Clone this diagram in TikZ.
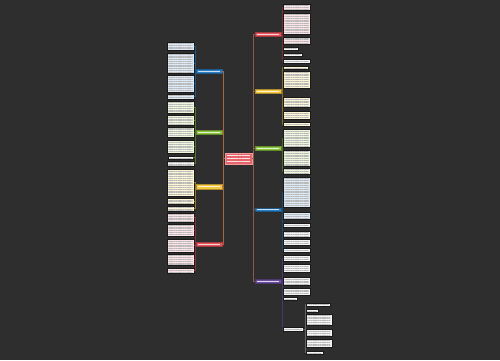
\documentclass[tikz,border=0pt]{standalone}
\usetikzlibrary{fit,patterns.meta}
\definecolor{bg}{HTML}{2E2E2E}
\definecolor{cred}{HTML}{E5535B}
\definecolor{cblue}{HTML}{2A7FC4}
\definecolor{cgreen}{HTML}{8CC63F}
\definecolor{cyellow}{HTML}{F5C842}
\definecolor{cpurple}{HTML}{6B4F9E}
\definecolor{lpink}{HTML}{FBE3E8}
\definecolor{lblue}{HTML}{DDE9F5}
\definecolor{lgreen}{HTML}{EEF6DD}
\definecolor{lyellow}{HTML}{FDF6D6}
\definecolor{lwhite}{HTML}{F4F4F4}
\definecolor{trunkL}{HTML}{A8653E}
\definecolor{trunkR}{HTML}{8A5A44}
\tikzset{
  leaf/.style={draw=black!90, line width=0.6pt, inner sep=0pt,
    path picture={\fill[pattern={Lines[distance=1.8pt,angle=0,line width=0.5pt]}, pattern color=black!28]
      ([shift={(1.3pt,-1pt)}]path picture bounding box.north west) rectangle
      ([shift={(-1.3pt,1pt)}]path picture bounding box.south east);}},
  branch/.style={fill=#1, draw=#1!70!black, line width=0.4pt, inner sep=0pt,
    path picture={\draw[white!75!#1, line width=1pt]
      ([xshift=2pt]path picture bounding box.west) -- ([xshift=-2pt]path picture bounding box.east);}},
  centre/.style={fill=cred!90!white, draw=cred!60!white, line width=0.6pt, inner sep=0pt,
    path picture={\fill[pattern={Lines[distance=3.2pt,angle=0,line width=0.9pt]}, pattern color=white!85!cred]
      ([shift={(2pt,-1.8pt)}]path picture bounding box.north west) rectangle
      ([shift={(-2pt,1.8pt)}]path picture bounding box.south east);}},
  conn/.style={draw=#1, line width=0.5pt},
}
\begin{document}
\begin{tikzpicture}[x=1pt,y=-1pt]
\fill[bg] (0,0) rectangle (500,360);
\useasboundingbox (0,0) rectangle (500,360);

% centre
\node[centre, fit={(225,153) (252,164)}] (C) {};
\coordinate (TL) at (223.5,158.5);
\coordinate (TR) at (253.5,158.5);

% left branches
\node[branch=cblue,   fit={(196,69) (222,73)}] (LB) {};
\node[branch=cgreen,  fit={(196,130) (222,134)}] (LG) {};
\node[branch=cyellow, fit={(196,184) (222,189)}] (LY) {};
\node[branch=cred,    fit={(196,242) (222,246)}] (LR) {};

% right branches
\node[branch=cred,    fit={(255,32) (281,36)}] (RR) {};
\node[branch=cyellow, fit={(255,89) (281,93)}] (RY) {};
\node[branch=cgreen,  fit={(255,146) (281,150)}] (RG) {};
\node[branch=cblue,   fit={(255,208) (281,211)}] (RB) {};
\node[branch=cpurple, fit={(255,279) (281,283)}] (RP) {};

% trunk connectors
\draw[conn=trunkL] (C.west) -- (TL);
\foreach \b in {LB,LG,LY,LR} \draw[conn=trunkL] (TL) |- (\b.east);
\draw[conn=trunkR] (C.east) -- (TR);
\foreach \b in {RR,RY,RG,RB,RP} \draw[conn=trunkR] (TR) |- (\b.west);

% left leaves: blue
\node[leaf, fill=lblue, fit={(167,42) (194,50)}] (a1) {};
\node[leaf, fill=lblue, fit={(167,53) (194,73)}] (a2) {};
\node[leaf, fill=lblue, fit={(167,75) (194,92)}] (a3) {};
\node[leaf, fill=lblue, fit={(167,94) (194,99)}] (a4) {};
% green
\node[leaf, fill=lgreen, fit={(167,101) (194,113)}] (b1) {};
\node[leaf, fill=lgreen, fit={(167,115) (194,125)}] (b2) {};
\node[leaf, fill=lgreen, fit={(167,127) (194,137)}] (b3) {};
\node[leaf, fill=lgreen, fit={(167,140) (194,153)}] (b4) {};
\node[leaf, fill=lwhite, fit={(168,156) (193,159)}] (b5) {};
\node[leaf, fill=lwhite, fit={(167,161) (194,166)}] (b6) {};
% yellow
\node[leaf, fill=lyellow, fit={(167,169) (194,196)}] (c1) {};
\node[leaf, fill=lyellow, fit={(167,198) (194,204)}] (c2) {};
\node[leaf, fill=lyellow, fit={(167,206) (194,211)}] (c3) {};
% red
\node[leaf, fill=lpink, fit={(167,213) (194,222)}] (d1) {};
\node[leaf, fill=lpink, fit={(167,224) (194,236)}] (d2) {};
\node[leaf, fill=lpink, fit={(167,239) (194,252)}] (d3) {};
\node[leaf, fill=lpink, fit={(167,254) (194,265)}] (d4) {};
\node[leaf, fill=lpink, fit={(167,268) (194,273)}] (d5) {};

\foreach \l in {a1,a2,a3,a4} \draw[conn=cblue!70!black] (LB.west) -- ++(-1,0) |- (\l.east);
\foreach \l in {b1,b2,b3,b4,b5,b6} \draw[conn=cgreen!60!black] (LG.west) -- ++(-1,0) |- (\l.east);
\foreach \l in {c1,c2,c3} \draw[conn=cyellow!60!black] (LY.west) -- ++(-1,0) |- (\l.east);
\foreach \l in {d1,d2,d3,d4,d5} \draw[conn=cred!60!black] (LR.west) -- ++(-1,0) |- (\l.east);

% right leaves: red
\node[leaf, fill=lpink, fit={(283,4) (310,10)}] (e1) {};
\node[leaf, fill=lpink, fit={(283,13) (310,34)}] (e2) {};
\node[leaf, fill=lpink, fit={(283,37) (310,44)}] (e3) {};
\node[leaf, fill=lwhite, fit={(283,47) (298,50)}] (e4) {};
\node[leaf, fill=lwhite, fit={(283,53) (302,56)}] (e5) {};
\node[leaf, fill=lwhite, fit={(283,59) (310,63)}] (e6) {};
% yellow
\node[leaf, fill=lyellow, fit={(283,66) (308,69)}] (f1) {};
\node[leaf, fill=lyellow, fit={(283,71) (310,88)}] (f2) {};
\node[leaf, fill=lyellow, fit={(283,97) (310,107)}] (f3) {};
\node[leaf, fill=lyellow, fit={(283,111) (310,119)}] (f4) {};
\node[leaf, fill=lyellow, fit={(283,122) (310,126)}] (f5) {};
% green
\node[leaf, fill=lgreen, fit={(283,129) (310,147)}] (g1) {};
\node[leaf, fill=lgreen, fit={(283,150) (310,166)}] (g2) {};
\node[leaf, fill=lgreen, fit={(283,168) (310,174)}] (g3) {};
% blue
\node[leaf, fill=lblue, fit={(283,177) (310,207)}] (h1) {};
\node[leaf, fill=lblue, fit={(283,212) (310,219)}] (h2) {};
\node[leaf, fill=lwhite, fit={(283,223) (310,227)}] (h3) {};
\node[leaf, fill=lwhite, fit={(283,231) (310,237)}] (h4) {};
\node[leaf, fill=lwhite, fit={(283,239) (310,245)}] (h5) {};
\node[leaf, fill=lwhite, fit={(283,248) (310,252)}] (h6) {};
% purple
\node[leaf, fill=lwhite, fit={(283,255) (310,261)}] (p1) {};
\node[leaf, fill=lwhite, fit={(283,264) (310,272)}] (p2) {};
\node[leaf, fill=lwhite, fit={(283,277) (310,285)}] (p3) {};
\node[leaf, fill=lwhite, fit={(283,288) (310,295)}] (p4) {};
\node[leaf, fill=lwhite, fit={(283,297) (297,300)}] (p5) {};
\node[leaf, fill=lwhite, fit={(283,327) (303,331)}] (p6) {};
% sub-leaves
\node[leaf, fill=lwhite, fit={(306,303) (330,306)}] (q1) {};
\node[leaf, fill=lwhite, fit={(306,309) (318,312)}] (q2) {};
\node[leaf, fill=lwhite, fit={(306,314) (332,325)}] (q3) {};
\node[leaf, fill=lwhite, fit={(306,329) (332,336)}] (q4) {};
\node[leaf, fill=lwhite, fit={(306,339) (332,347)}] (q5) {};
\node[leaf, fill=lwhite, fit={(306,351) (323,354)}] (q6) {};

\foreach \l in {e1,e2,e3,e4,e5,e6} \draw[conn=cred!55!black] (RR.east) -- ++(1,0) |- (\l.west);
\foreach \l in {f1,f2,f3,f4,f5} \draw[conn=cyellow!55!black] (RY.east) -- ++(1,0) |- (\l.west);
\foreach \l in {g1,g2,g3} \draw[conn=cgreen!55!black] (RG.east) -- ++(1,0) |- (\l.west);
\foreach \l in {h1,h2,h3,h4,h5,h6} \draw[conn=cblue!60!black] (RB.east) -- ++(1,0) |- (\l.west);
\foreach \l in {p1,p2,p3,p4,p5,p6} \draw[conn=cpurple!70!black] (RP.east) -- ++(1,0) |- (\l.west);
\foreach \l in {q1,q2,q3,q4,q5,q6} \draw[conn=black!60] (p6.east) -- ++(1.5,0) |- (\l.west);
\end{tikzpicture}
\end{document}
